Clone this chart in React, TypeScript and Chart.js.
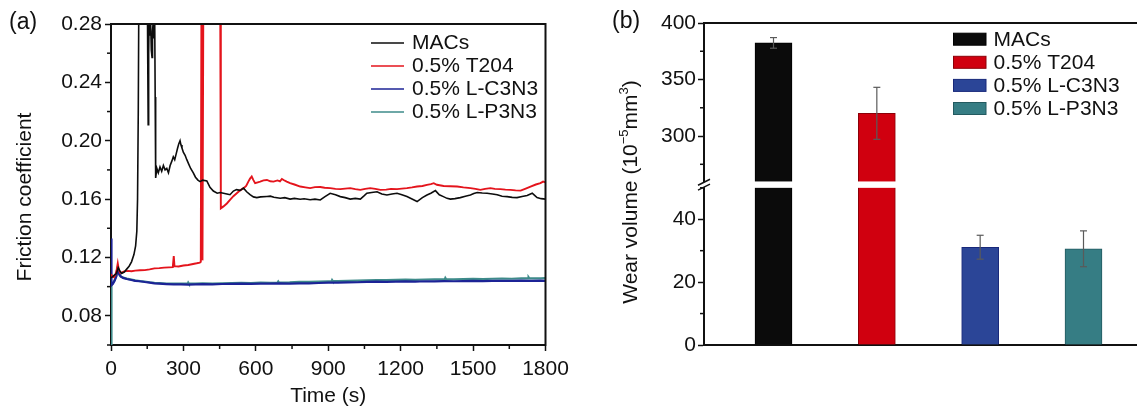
import React, { useEffect, useRef } from 'react';
import { Chart, registerables } from 'chart.js';

Chart.register(...registerables);

const FONT_FAMILY = '"Liberation Sans", Arial, Helvetica, sans-serif';
const TEXT_COLOR = '#111111';

// ---------- shared names ----------
const seriesNames = ['MACs', '0.5% T204', '0.5% L-C3N3', '0.5% L-P3N3'];

// ---------- panel (a): friction coefficient vs time ----------
const lineColors = ['#0d0d0d', '#e4141c', '#1c2396', '#3e8b8a'];
const lineWidths = [1.6, 1.9, 2.2, 2.2];

const timeTicks = [0, 300, 600, 900, 1200, 1500, 1800];
const timeMinorTicks = [150, 450, 750, 1050, 1350, 1650];
const frictionTicks = [0.08, 0.12, 0.16, 0.2, 0.24, 0.28];
const frictionMinorTicks = [0.06, 0.1, 0.14, 0.18, 0.22, 0.26];

const macsCurve: [number, number][] = [
  [0, 0.106], [8, 0.107], [15, 0.108], [22, 0.109], [30, 0.113], [36, 0.111], [44, 0.109],
  [55, 0.11], [65, 0.112], [75, 0.114], [85, 0.117], [95, 0.122], [102, 0.128], [107, 0.138],
  [110, 0.16], [113, 0.22], [116, 0.32], [150, 0.32], [152, 0.26], [154, 0.211], [156, 0.26],
  [158, 0.285], [161, 0.272], [164, 0.283], [167, 0.262], [170, 0.257], [172, 0.275], [175, 0.282],
  [178, 0.27], [181, 0.285], [183, 0.23], [185, 0.1745], [190, 0.181], [196, 0.178], [203, 0.182],
  [210, 0.179], [217, 0.183], [224, 0.18], [231, 0.181], [238, 0.178], [245, 0.183], [252, 0.186],
  [258, 0.189], [264, 0.187], [270, 0.191], [276, 0.195], [281, 0.198], [286, 0.2], [290, 0.197],
  [294, 0.195], [300, 0.192], [307, 0.19], [314, 0.187], [322, 0.184], [330, 0.181], [341, 0.178],
  [350, 0.175], [360, 0.173], [369, 0.172], [380, 0.173], [397, 0.1725], [410, 0.168], [424, 0.1655],
  [440, 0.164], [452, 0.1645], [466, 0.164], [480, 0.1635], [493, 0.163], [507, 0.1655], [520, 0.1665],
  [535, 0.166], [549, 0.1675], [562, 0.165], [576, 0.163], [590, 0.1615], [604, 0.161], [620, 0.1615],
  [646, 0.1618], [660, 0.162], [675, 0.1612], [701, 0.1606], [720, 0.161], [742, 0.16], [760, 0.1605],
  [784, 0.1599], [800, 0.1602], [825, 0.1596], [845, 0.16], [867, 0.1594], [885, 0.1615], [908, 0.164],
  [930, 0.163], [950, 0.1617], [970, 0.161], [991, 0.16], [1012, 0.1605], [1033, 0.16], [1047, 0.162],
  [1060, 0.164], [1080, 0.1645], [1102, 0.165], [1122, 0.1635], [1143, 0.1628], [1164, 0.1635],
  [1185, 0.164], [1205, 0.163], [1226, 0.1617], [1247, 0.16], [1268, 0.1583], [1290, 0.161],
  [1309, 0.1628], [1325, 0.164], [1344, 0.1658], [1360, 0.163], [1377, 0.1617], [1392, 0.1605],
  [1406, 0.16], [1425, 0.1603], [1447, 0.161], [1468, 0.162], [1489, 0.1628], [1503, 0.1638],
  [1517, 0.1645], [1538, 0.1642], [1558, 0.164], [1580, 0.1635], [1600, 0.163], [1620, 0.162],
  [1641, 0.1617], [1662, 0.1612], [1682, 0.161], [1703, 0.1618], [1724, 0.1625], [1745, 0.164],
  [1755, 0.1625], [1765, 0.161], [1782, 0.1603], [1800, 0.16],
];

const t204Curve: [number, number][] = [
  [0, 0.1085], [6, 0.107], [12, 0.1065], [18, 0.108], [24, 0.112], [28, 0.116], [32, 0.112],
  [38, 0.1095], [45, 0.1098], [55, 0.1105], [70, 0.1108], [85, 0.1106], [100, 0.111], [120, 0.1112],
  [140, 0.1113], [160, 0.1118], [180, 0.1125], [200, 0.1127], [220, 0.113], [240, 0.1132],
  [256, 0.1134], [260, 0.121], [263, 0.114], [280, 0.1138], [300, 0.1145], [320, 0.1148],
  [340, 0.1155], [355, 0.116], [368, 0.1165], [372, 0.117], [375, 0.32], [379, 0.118], [383, 0.32],
  [452, 0.32], [455, 0.1537], [466, 0.155], [480, 0.157], [493, 0.1594], [507, 0.162], [521, 0.164],
  [535, 0.166], [549, 0.1675], [560, 0.169], [569, 0.172], [576, 0.174], [583, 0.1754], [590, 0.173],
  [597, 0.1709], [608, 0.1715], [618, 0.172], [632, 0.1728], [646, 0.1731], [660, 0.1722],
  [673, 0.172], [690, 0.1728], [700, 0.1722], [708, 0.1738], [715, 0.1731], [728, 0.172],
  [742, 0.1709], [760, 0.17], [784, 0.1686], [805, 0.168], [825, 0.1675], [845, 0.1682],
  [867, 0.1683], [885, 0.1678], [908, 0.1675], [930, 0.167], [950, 0.1668], [970, 0.1672],
  [991, 0.1675], [1012, 0.1668], [1033, 0.1663], [1053, 0.167], [1074, 0.1675], [1095, 0.167],
  [1116, 0.1663], [1140, 0.1665], [1160, 0.167], [1185, 0.1668], [1205, 0.1672], [1226, 0.1675],
  [1247, 0.168], [1268, 0.1686], [1290, 0.169], [1309, 0.1697], [1325, 0.1703], [1337, 0.1709],
  [1350, 0.1698], [1378, 0.169], [1405, 0.1688], [1434, 0.1686], [1460, 0.168], [1489, 0.1675],
  [1510, 0.167], [1530, 0.1663], [1550, 0.167], [1572, 0.1675], [1590, 0.167], [1613, 0.1668],
  [1634, 0.1665], [1655, 0.1663], [1676, 0.166], [1697, 0.1658], [1718, 0.1672], [1738, 0.1686],
  [1760, 0.17], [1779, 0.1709], [1790, 0.172], [1800, 0.1715],
];

const lc3n3Curve: [number, number][] = [
  [0, 0.133], [2, 0.101], [8, 0.102], [15, 0.104], [22, 0.107], [28, 0.113], [33, 0.109],
  [40, 0.107], [50, 0.106], [65, 0.1052], [80, 0.1047], [100, 0.104], [120, 0.1037], [140, 0.1032],
  [160, 0.1028], [180, 0.1022], [200, 0.102], [230, 0.1017], [260, 0.1015], [290, 0.1016],
  [320, 0.1014], [350, 0.1016], [380, 0.1017], [420, 0.1016], [460, 0.1018], [500, 0.1019],
  [540, 0.102], [580, 0.1019], [620, 0.1021], [660, 0.102], [700, 0.1022], [740, 0.1021],
  [780, 0.1023], [820, 0.1022], [860, 0.1025], [900, 0.1027], [940, 0.1028], [980, 0.1029],
  [1020, 0.103], [1060, 0.1032], [1100, 0.1034], [1140, 0.1033], [1180, 0.1035], [1220, 0.1036],
  [1260, 0.1035], [1300, 0.1037], [1340, 0.1036], [1380, 0.1038], [1420, 0.1037], [1460, 0.1038],
  [1500, 0.1039], [1540, 0.1038], [1580, 0.104], [1620, 0.1039], [1660, 0.104], [1700, 0.1041],
  [1740, 0.104], [1780, 0.1041], [1800, 0.104],
];

const lp3n3Curve: [number, number][] = [
  [0, 0.06], [2, 0.101], [8, 0.1025], [15, 0.1045], [22, 0.1075], [28, 0.112], [33, 0.1085],
  [40, 0.107], [50, 0.1062], [65, 0.1055], [80, 0.105], [100, 0.1043], [120, 0.1038], [140, 0.1035],
  [160, 0.103], [180, 0.1026], [200, 0.1024], [230, 0.1021], [260, 0.102], [290, 0.1021],
  [318, 0.102], [320, 0.1028], [323, 0.102], [350, 0.1021], [380, 0.1022], [420, 0.1021],
  [460, 0.1023], [500, 0.1024], [540, 0.1026], [580, 0.1025], [620, 0.1027], [660, 0.1026],
  [690, 0.1027], [693, 0.1035], [696, 0.1028], [740, 0.1029], [780, 0.1032], [820, 0.1033],
  [860, 0.1035], [900, 0.1037], [914, 0.1037], [916, 0.1045], [919, 0.1038], [940, 0.1038],
  [980, 0.104], [1020, 0.1041], [1060, 0.1043], [1100, 0.1045], [1140, 0.1044], [1180, 0.1046],
  [1220, 0.1048], [1260, 0.1047], [1300, 0.1049], [1340, 0.105], [1383, 0.1051], [1385, 0.1059],
  [1388, 0.1051], [1420, 0.105], [1460, 0.1052], [1500, 0.1053], [1540, 0.1052], [1580, 0.1054],
  [1620, 0.1055], [1660, 0.1054], [1700, 0.1056], [1728, 0.1057], [1730, 0.1064], [1733, 0.1057],
  [1780, 0.1056], [1800, 0.1058],
];

const frictionCurves = [macsCurve, t204Curve, lc3n3Curve, lp3n3Curve];

// ---------- panel (b): wear volume bars with broken axis ----------
const barPositions = [1, 2, 3, 4];
const wearValues = [382.4, 320.1, 31.1, 30.6];
const wearErrors = [4.7, 23, 3.8, 5.7];
const barColors = ['#0b0b0b', '#d0000f', '#2b4597', '#367d84'];
const barBorders = ['#000000', '#8c0008', '#18287a', '#235a60'];
const wearHighTicks = [300, 350, 400];
const wearHighMinorTicks = [275, 325, 375];
const wearLowTicks = [0, 20, 40];
const wearLowMinorTicks = [10, 30, 50];
const wearHighMin = 257;
const wearHighMax = 400;
const wearLowMin = 0;
const wearLowMax = 51;

const font21 = { family: FONT_FAMILY, size: 21 };

function strokeLine(ctx: CanvasRenderingContext2D, x1: number, y1: number, x2: number, y2: number) {
  ctx.beginPath();
  ctx.moveTo(x1, y1);
  ctx.lineTo(x2, y2);
  ctx.stroke();
}

function drawRotatedParts(
  ctx: CanvasRenderingContext2D,
  cx: number,
  cy: number,
  parts: { text: string; size: number; rise: number }[]
) {
  ctx.save();
  ctx.translate(cx, cy);
  ctx.rotate(-Math.PI / 2);
  ctx.textBaseline = 'middle';
  ctx.textAlign = 'left';
  ctx.fillStyle = TEXT_COLOR;
  let total = 0;
  parts.forEach((p) => {
    ctx.font = `${p.size}px ${FONT_FAMILY}`;
    total += ctx.measureText(p.text).width;
  });
  let x = -total / 2;
  parts.forEach((p) => {
    ctx.font = `${p.size}px ${FONT_FAMILY}`;
    ctx.fillText(p.text, x, -p.rise);
    x += ctx.measureText(p.text).width;
  });
  ctx.restore();
}

const panelAPlugin = {
  id: 'panelA',
  afterDraw(chart: any) {
    const { ctx, chartArea: ca, scales } = chart;
    ctx.save();
    ctx.strokeStyle = TEXT_COLOR;
    ctx.lineWidth = 2;
    ctx.beginPath();
    ctx.moveTo(ca.left - 1, ca.top);
    ctx.lineTo(ca.right, ca.top);
    ctx.lineTo(ca.right, ca.bottom + 1);
    ctx.stroke();

    ctx.lineWidth = 1.5;
    frictionMinorTicks.forEach((v) => {
      const y = scales.y.getPixelForValue(v);
      strokeLine(ctx, ca.left - 4, y, ca.left, y);
    });
    timeMinorTicks.forEach((t) => {
      const x = scales.x.getPixelForValue(t);
      strokeLine(ctx, x, ca.bottom, x, ca.bottom + 4);
    });

    // legend
    ctx.font = `21px ${FONT_FAMILY}`;
    ctx.textBaseline = 'middle';
    ctx.textAlign = 'left';
    chart.data.datasets.forEach((ds: any, i: number) => {
      const y = 43 + 23 * i;
      ctx.strokeStyle = ds.borderColor;
      ctx.lineWidth = 1.7;
      strokeLine(ctx, 371, y, 404, y);
      ctx.fillStyle = TEXT_COLOR;
      ctx.fillText(ds.label, 412, y);
    });

    // panel label
    ctx.font = `23px ${FONT_FAMILY}`;
    ctx.fillStyle = TEXT_COLOR;
    ctx.fillText('(a)', 9, 23);

    drawRotatedParts(ctx, 25, 197, [{ text: 'Friction coefficient', size: 21, rise: 0 }]);
    ctx.restore();
  },
};

const panelBPlugin = {
  id: 'panelB',
  afterDatasetsDraw(chart: any) {
    const { ctx, scales } = chart;
    const hi = scales.yHigh;
    const lo = scales.yLow;
    const xs = scales.x;
    const yb = (hi.bottom + lo.top) / 2;
    const meta = chart.getDatasetMeta(1);
    ctx.save();
    wearValues.forEach((v, i) => {
      if (v > wearLowMax) {
        const el = meta.data[i];
        ctx.fillStyle = '#ffffff';
        ctx.fillRect(el.x - el.width / 2 - 1.5, yb - 3.2, el.width + 3, 6.4);
      }
    });
    ctx.strokeStyle = '#5a5a5a';
    ctx.lineWidth = 1.2;
    wearValues.forEach((v, i) => {
      const s = v > wearLowMax ? hi : lo;
      const px = xs.getPixelForValue(barPositions[i]);
      const top = s.getPixelForValue(v + wearErrors[i]);
      const bot = s.getPixelForValue(v - wearErrors[i]);
      strokeLine(ctx, px, top, px, bot);
      strokeLine(ctx, px - 3.5, top, px + 3.5, top);
      strokeLine(ctx, px - 3.5, bot, px + 3.5, bot);
    });
    ctx.restore();
  },
  afterDraw(chart: any) {
    const { ctx, chartArea: ca, scales } = chart;
    const hi = scales.yHigh;
    const lo = scales.yLow;
    const yb = (hi.bottom + lo.top) / 2;
    ctx.save();
    ctx.strokeStyle = TEXT_COLOR;
    ctx.lineWidth = 2;
    strokeLine(ctx, ca.left - 1, ca.top, ca.right, ca.top);

    // minor ticks
    ctx.lineWidth = 1.5;
    wearHighMinorTicks.forEach((v) => {
      const y = hi.getPixelForValue(v);
      strokeLine(ctx, ca.left - 4, y, ca.left, y);
    });
    wearLowMinorTicks.forEach((v) => {
      const y = lo.getPixelForValue(v);
      strokeLine(ctx, ca.left - 4, y, ca.left, y);
    });

    // axis break
    const ax = ca.left;
    ctx.fillStyle = '#ffffff';
    ctx.fillRect(ax - 2, yb - 2.4, 4, 4.8);
    ctx.strokeStyle = TEXT_COLOR;
    ctx.lineWidth = 1.5;
    strokeLine(ctx, ax - 6, yb - 2.4 + 3, ax + 6, yb - 2.4 - 3);
    strokeLine(ctx, ax - 6, yb + 2.4 + 3, ax + 6, yb + 2.4 - 3);

    // legend
    ctx.font = `21px ${FONT_FAMILY}`;
    ctx.textBaseline = 'middle';
    ctx.textAlign = 'left';
    seriesNames.forEach((name, i) => {
      const y = 39.2 + 23.1 * i;
      ctx.fillStyle = barColors[i];
      ctx.fillRect(353.5, y - 6, 32.5, 12);
      ctx.strokeStyle = barBorders[i];
      ctx.lineWidth = 1;
      ctx.strokeRect(353.5, y - 6, 32.5, 12);
      ctx.fillStyle = TEXT_COLOR;
      ctx.fillText(name, 393.5, y + 1);
    });

    ctx.font = `23px ${FONT_FAMILY}`;
    ctx.fillStyle = TEXT_COLOR;
    ctx.fillText('(b)', 12, 22);

    drawRotatedParts(ctx, 31, 192, [
      { text: 'Wear volume (10', size: 21, rise: 0 },
      { text: '\u22125', size: 13, rise: 7 },
      { text: 'mm', size: 21, rise: 0 },
      { text: '3', size: 13, rise: 7 },
      { text: ')', size: 21, rise: 0 },
    ]);
    ctx.restore();
  },
};

const axisTick = (values: number[]) => (scale: any) => {
  scale.ticks = values.map((v) => ({ value: v }));
};

export default function App() {
  const refA = useRef<HTMLCanvasElement>(null);
  const refB = useRef<HTMLCanvasElement>(null);

  useEffect(() => {
    const chartA = new Chart(refA.current as HTMLCanvasElement, {
      type: 'line',
      data: {
        datasets: seriesNames.map((name, i) => ({
          label: name,
          data: frictionCurves[i].map(([t, v]) => ({ x: t, y: v })),
          borderColor: lineColors[i],
          backgroundColor: lineColors[i],
          borderWidth: lineWidths[i],
          pointRadius: 0,
          tension: 0,
          fill: false,
        })),
      },
      options: {
        animation: false,
        responsive: false,
        devicePixelRatio: 1,
        layout: { padding: { left: 0, top: 24, right: 54.5, bottom: 0 } },
        plugins: { legend: { display: false }, tooltip: { enabled: false } },
        scales: {
          x: {
            type: 'linear',
            min: 0,
            max: 1800,
            afterBuildTicks: axisTick(timeTicks),
            afterFit: (s: any) => {
              s.height = 64;
            },
            ticks: {
              font: font21,
              color: TEXT_COLOR,
              padding: 6,
              maxRotation: 0,
              autoSkip: false,
              callback: (v: any) => String(v),
            },
            grid: { drawOnChartArea: false, drawTicks: true, tickLength: 6, tickColor: TEXT_COLOR, tickWidth: 1.5 },
            border: { display: true, color: TEXT_COLOR, width: 2 },
            title: { display: true, text: 'Time (s)', font: font21, color: TEXT_COLOR, padding: { top: 0, bottom: 0 } },
          },
          y: {
            type: 'linear',
            min: 0.06,
            max: 0.28,
            afterBuildTicks: axisTick(frictionTicks),
            afterFit: (s: any) => {
              s.width = 111;
            },
            ticks: {
              font: font21,
              color: TEXT_COLOR,
              padding: 3,
              autoSkip: false,
              callback: (v: any) => Number(v).toFixed(2),
            },
            grid: { drawOnChartArea: false, drawTicks: true, tickLength: 6, tickColor: TEXT_COLOR, tickWidth: 1.5 },
            border: { display: true, color: TEXT_COLOR, width: 2 },
          },
        },
      },
      plugins: [panelAPlugin],
    } as any);

    const chartB = new Chart(refB.current as HTMLCanvasElement, {
      type: 'bar',
      data: {
        datasets: [
          {
            label: 'upper',
            yAxisID: 'yHigh',
            base: wearHighMin,
            data: barPositions.map((x, i) => ({ x, y: wearValues[i] > wearLowMax ? wearValues[i] : null })),
            backgroundColor: barColors,
            borderColor: barBorders,
            borderWidth: 1,
            barThickness: 37,
            grouped: false,
          },
          {
            label: 'lower',
            yAxisID: 'yLow',
            data: barPositions.map((x, i) => ({ x, y: Math.min(wearValues[i], wearLowMax) })),
            backgroundColor: barColors,
            borderColor: barBorders,
            borderWidth: 1,
            barThickness: 37,
            grouped: false,
          },
        ],
      },
      options: {
        animation: false,
        responsive: false,
        devicePixelRatio: 1,
        layout: { padding: { left: 0, top: 23, right: 0, bottom: 0 } },
        plugins: { legend: { display: false }, tooltip: { enabled: false } },
        scales: {
          x: {
            type: 'linear',
            min: 0.3274,
            max: 4.5178,
            offset: false,
            z: 1,
            afterFit: (s: any) => {
              s.height = 64;
            },
            ticks: { display: false },
            grid: { display: false, offset: false },
            border: { display: true, color: TEXT_COLOR, width: 2 },
          },
          yHigh: {
            type: 'linear',
            position: 'left',
            stack: 'wear',
            stackWeight: 161.8,
            weight: 1,
            min: wearHighMin,
            max: wearHighMax,
            afterBuildTicks: axisTick(wearHighTicks),
            afterFit: (s: any) => {
              s.width = 104;
            },
            ticks: { font: font21, color: TEXT_COLOR, padding: 2, autoSkip: false, callback: (v: any) => String(v) },
            grid: { drawOnChartArea: false, drawTicks: true, tickLength: 6, tickColor: TEXT_COLOR, tickWidth: 1.5 },
            border: { display: true, color: TEXT_COLOR, width: 2 },
          },
          yLow: {
            type: 'linear',
            position: 'left',
            stack: 'wear',
            stackWeight: 160.5,
            weight: 0,
            min: wearLowMin,
            max: wearLowMax,
            afterBuildTicks: axisTick(wearLowTicks),
            afterFit: (s: any) => {
              s.width = 104;
            },
            ticks: { font: font21, color: TEXT_COLOR, padding: 2, autoSkip: false, callback: (v: any) => String(v) },
            grid: { drawOnChartArea: false, drawTicks: true, tickLength: 6, tickColor: TEXT_COLOR, tickWidth: 1.5 },
            border: { display: true, color: TEXT_COLOR, width: 2 },
          },
        },
      },
      plugins: [panelBPlugin],
    } as any);

    return () => {
      chartA.destroy();
      chartB.destroy();
    };
  }, []);

  return (
    <div style={{ position: 'absolute', left: 0, top: 0, width: 1137, height: 409, background: '#ffffff' }}>
      <canvas ref={refA} width={600} height={409} style={{ position: 'absolute', left: 0, top: 0 }} />
      <canvas ref={refB} width={537} height={409} style={{ position: 'absolute', left: 600, top: 0 }} />
    </div>
  );
}
